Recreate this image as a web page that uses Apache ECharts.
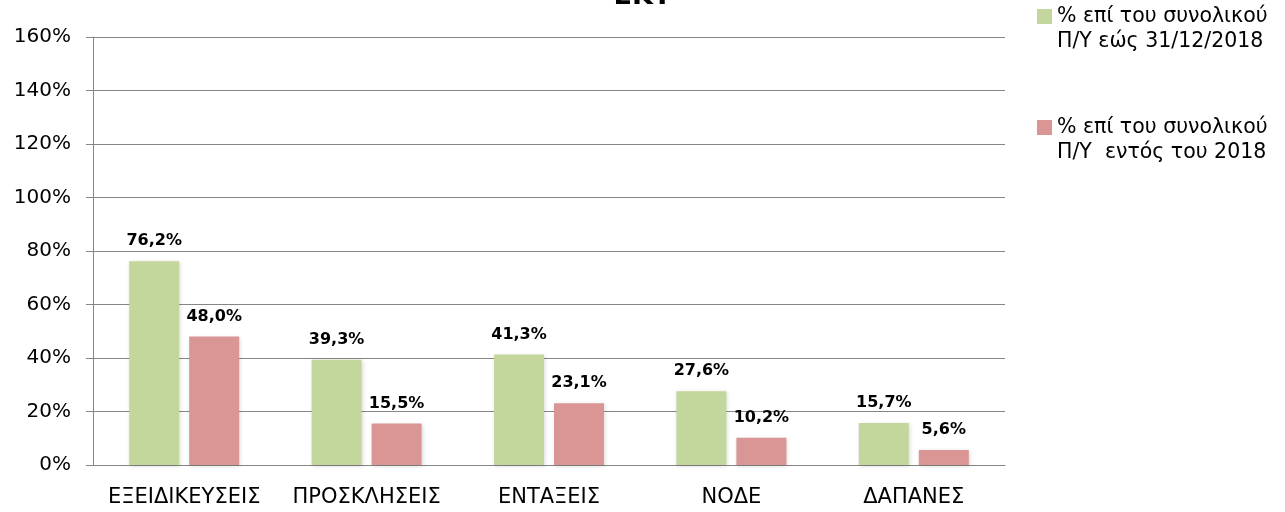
<!DOCTYPE html>
<html>
<head>
<meta charset="utf-8">
<script src="https://cdn.jsdelivr.net/npm/echarts@6/dist/echarts.min.js"></script>
</head>
<body style="margin:0;background:#fff;">
<div id="chart" style="width:1285px;height:512px;"></div>
<script type="text/javascript">
    // κατηγορίες και τιμές (%)
    var categories = ['ΕΞΕΙΔΙΚΕΥΣΕΙΣ', 'ΠΡΟΣΚΛΗΣΕΙΣ', 'ΕΝΤΑΞΕΙΣ', 'ΝΟΔΕ', 'ΔΑΠΑΝΕΣ'];
    var seriesNames = ['% επί του συνολικού\nΠ/Υ εώς 31/12/2018', '% επί του συνολικού\nΠ/Υ  εντός του 2018'];
    var totalValues = [76.2, 39.3, 41.3, 27.6, 15.7];
    var yearValues = [48.0, 15.5, 23.1, 10.2, 5.6];
    var yTicks = [0, 20, 40, 60, 80, 100, 120, 140, 160];

    var font = '"DejaVu Sans", "Noto Sans", sans-serif';
    var chart = echarts.init(document.getElementById('chart'));

    function pct(p){
        return p.value.toFixed(1).replace('.', ',') + '%';
    }

    var options = {
        animation: false,
        title: {
            text: 'ΕΚΤ',
            left: 'center',
            top: -22,
            textStyle: {fontFamily: font, fontSize: 27, fontWeight: 'bold', color: '#000'}
        },
        legend: {
            orient: 'vertical',
            left: 1032,
            top: -26,
            icon: 'rect',
            itemWidth: 15,
            itemHeight: 15,
            itemGap: 36,
            data: seriesNames,
            // κενή γραμμή πάνω ώστε το τετράγωνο να ευθυγραμμίζεται με την 1η γραμμή
            formatter: function(name){ return ' \n' + name; },
            textStyle: {fontFamily: font, fontSize: 20.5, color: '#000', lineHeight: 25}
        },
        grid: {
            left: 93,
            right: 280,
            top: 37,
            bottom: 47
        },
        xAxis: {
            type: 'category',
            data: categories,
            axisLine: {lineStyle: {color: '#868686'}},
            axisTick: {length: 7, lineStyle: {color: '#868686'}},
            axisLabel: {interval: 0, fontFamily: font, fontSize: 21, color: '#000', margin: 22}
        },
        yAxis: {
            type: 'value',
            min: yTicks[0],
            max: yTicks[yTicks.length - 1],
            interval: 20,
            axisLine: {show: true, lineStyle: {color: '#868686'}},
            axisTick: {show: true, length: 7, lineStyle: {color: '#868686'}},
            splitLine: {lineStyle: {color: '#868686'}},
            axisLabel: {fontFamily: font, fontSize: 20, color: '#000', margin: 22, formatter: '{value}%'}
        },
        series: [{
            name: seriesNames[0],
            type: 'bar',
            data: totalValues,
            barWidth: 50,
            barGap: '20%',
            itemStyle: {color: '#c3d69b', shadowColor: 'rgba(0,0,0,0.15)', shadowBlur: 4, shadowOffsetX: 1, shadowOffsetY: 1},
            label: {show: true, position: 'top', distance: 12, formatter: pct,
                fontFamily: font, fontSize: 16, fontWeight: 'bold', color: '#000'}
        }, {
            name: seriesNames[1],
            type: 'bar',
            data: yearValues,
            barWidth: 50,
            itemStyle: {color: '#d99694', shadowColor: 'rgba(0,0,0,0.15)', shadowBlur: 4, shadowOffsetX: 1, shadowOffsetY: 1},
            label: {show: true, position: 'top', distance: 12, formatter: pct,
                fontFamily: font, fontSize: 16, fontWeight: 'bold', color: '#000'}
        }]
    };
    chart.setOption(options);
</script>
</body>
</html>
